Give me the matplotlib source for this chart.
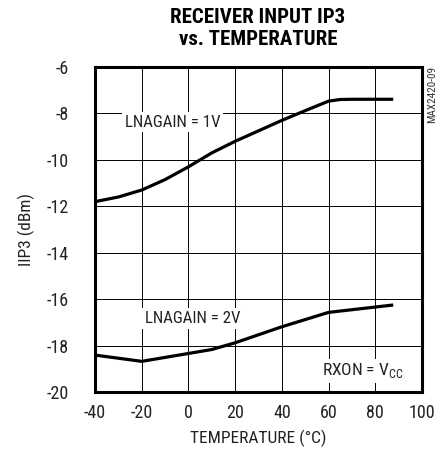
import matplotlib
matplotlib.use("Agg")
import matplotlib.pyplot as plt

NARROW = ["Roboto Condensed", "Archivo Narrow", "DejaVu Sans"]

temp_1v = [-40, -30, -20, -10, 0, 10, 20, 30, 40, 50, 60, 65, 70, 87]
iip3_1v = [-11.8, -11.6, -11.3, -10.85, -10.3, -9.7, -9.2, -8.75, -8.3, -7.88, -7.47, -7.4, -7.39, -7.39]
temp_2v = [-40, -20, 10, 20, 40, 60, 87]
iip3_2v = [-18.41, -18.68, -18.17, -17.88, -17.19, -16.57, -16.26]

xticks = [-40, -20, 0, 20, 40, 60, 80, 100]
yticks = [-20, -18, -16, -14, -12, -10, -8, -6]

fig = plt.figure(figsize=(4.44, 4.5), dpi=100)
ax = fig.add_axes([95/444, 1-392/450, (422-95)/444, (392-67)/450])
ax.set_xlim(-40, 100)
ax.set_ylim(-20, -6)
ax.set_xticks(xticks)
ax.set_yticks(yticks)
ax.set_xticklabels([str(t) for t in xticks], family=NARROW, fontsize=13, color="#222222")
ax.set_yticklabels([str(t) for t in yticks], family=NARROW, fontsize=13, color="#222222")
ax.tick_params(axis="x", length=0, pad=9)
ax.tick_params(axis="y", length=0, pad=19)
ax.grid(True, color="#000000", linewidth=0.7, zorder=1)
ax.set_axisbelow(True)
for s in ax.spines.values():
    s.set_linewidth(2.2)

ax.plot(temp_1v, iip3_1v, color="black", linewidth=2.3, zorder=3)
ax.plot(temp_2v, iip3_2v, color="black", linewidth=2.3, zorder=3)

bb = dict(facecolor="white", edgecolor="none", pad=2)
ax.text(-6.8, -8.38, "LNAGAIN = 1V", ha="center", va="center", family=NARROW, fontsize=12.2, bbox=bb, zorder=2, color="#222222")
ax.text(1.7, -16.83, "LNAGAIN = 2V", ha="center", va="center", family=NARROW, fontsize=12.2, bbox=bb, zorder=2, color="#222222")
ax.text(74.7, -19.09, r"RXON = V$_{\mathregular{CC}}$", ha="center", va="center", family=NARROW, fontsize=12.5, bbox=bb, zorder=2, color="#222222")

ax.set_xlabel("TEMPERATURE (°C)", family=NARROW, fontsize=12.5, labelpad=5, color="#222222")
ax.set_ylabel("IIP3 (dBm)", family=NARROW, fontsize=12.5, labelpad=8, color="#222222")

fig.text(258/444, 1-28.5/450, "RECEIVER INPUT IP3\nvs. TEMPERATURE", ha="center", va="center",
         family=["Roboto Condensed", "DejaVu Sans"], fontweight=900, fontsize=15, linespacing=1.2)
fig.text(432/444, 1-66/450, "MAX2420-09", rotation=90, ha="center", va="top",
         family=NARROW, fontsize=8, color="#333333")

fig.savefig("out.png", dpi=100)
